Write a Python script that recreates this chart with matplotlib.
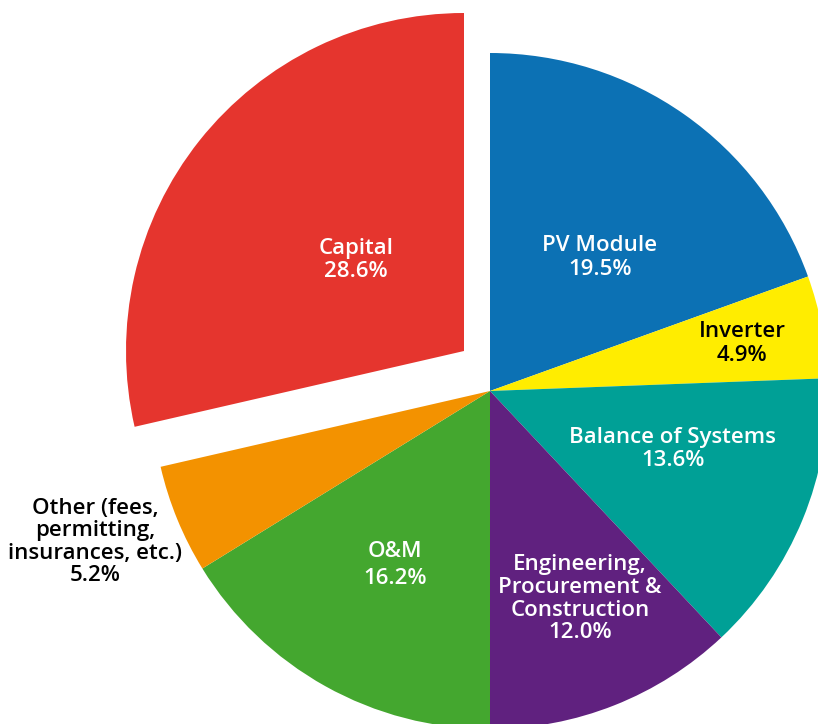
import matplotlib.pyplot as plt

# cost breakdown of a PV system (share of total, %)
labels = ['PV Module', 'Inverter', 'Balance of Systems',
          'Engineering,\nProcurement &\nConstruction', 'O&M',
          'Other (fees,\npermitting,\ninsurances, etc.)', 'Capital']
shares = [19.5, 4.9, 13.6, 12.0, 16.2, 5.2, 28.6]
colors = ['#0C71B4', '#FFED00', '#00A096', '#60217F', '#44A72F', '#F39200', '#E5352E']
text_colors = ['white', 'black', 'white', 'white', 'white', 'black', 'white']

# label centres in data units (pie radius = 1)
label_pos = [(0.325, 0.395), (0.746, 0.14), (0.541, -0.172), (0.266, -0.615),
             (-0.281, -0.515), (-1.169, -0.447), (-0.396, 0.387)]
line_space = [1.15, 1.15, 1.15, 1.1, 1.4, 1.1, 1.15]

plt.rcParams['font.family'] = ['Open Sans', 'DejaVu Sans']

fig = plt.figure(figsize=(8.18, 7.24), dpi=100)
ax = fig.add_axes([0, 0, 1, 1])

wedges, _ = ax.pie(shares, colors=colors, startangle=90, counterclock=False,
                   radius=1, wedgeprops=dict(linewidth=0))

# Capital slice pulled out towards the upper left
wedges[-1].set_center((-26 / 338, 40 / 338))

for lab, val, (x, y), tc, ls in zip(labels, shares, label_pos, text_colors, line_space):
    ax.text(x, y, f'{lab}\n{val:.1f}%', ha='center', va='center', color=tc,
            fontsize=16, fontweight='semibold', linespacing=ls)

ax.set_xlim(-490 / 338, 328 / 338)
ax.set_ylim(-(724 - 391) / 338, 391 / 338)
ax.set_aspect('equal')
ax.axis('off')

fig.savefig('out.png', dpi=100)
